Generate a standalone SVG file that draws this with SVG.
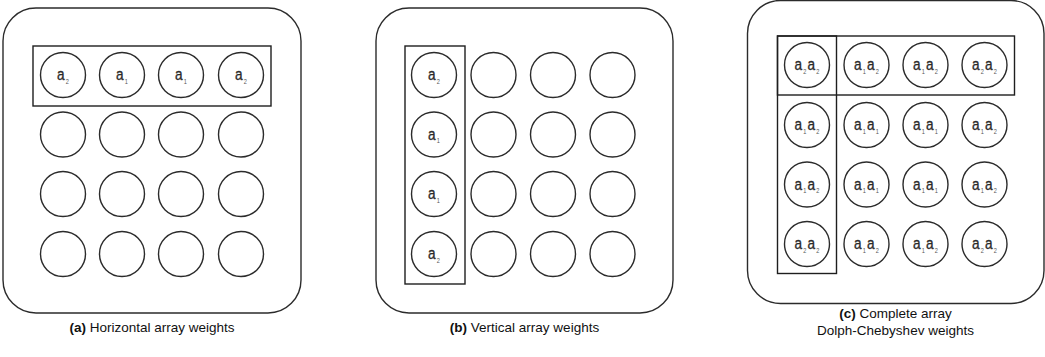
<svg xmlns="http://www.w3.org/2000/svg" width="1045" height="357" viewBox="0 0 1045 357">
  <style>
    .panel { fill: #ffffff; stroke: #2b2b2b; stroke-width: 1.4; }
    .box { fill: none; stroke: #1e1e1e; stroke-width: 1.4; }
    .el { fill: #ffffff; stroke: #2b2b2b; stroke-width: 1.4; }
    .w { font-family: "Liberation Sans", Arial, sans-serif; font-size: 17px; fill: #2a2a2a; stroke: #2a2a2a; stroke-width: 0.35; text-anchor: middle; }
    .w .s { font-size: 7px; fill: #555555; stroke: none; }
    .cap { font-family: "Liberation Sans", Arial, sans-serif; font-size: 13.5px; fill: #111111; text-anchor: middle; }
    .cap .b { font-weight: bold; }
  </style>
  <defs>
    <circle id="elem" r="22.5" class="el"/>
    <!-- weight labels, drawn in a narrow face around the origin -->
    <text id="w1" class="w" x="0" y="5" transform="scale(0.8,1)">a<tspan class="s" dx="1.5" dy="4">1</tspan></text>
    <text id="w2" class="w" x="0" y="5" transform="scale(0.8,1)">a<tspan class="s" dx="1.5" dy="4">2</tspan></text>
    <text id="w11" class="w" x="0" y="5" transform="scale(0.8,1)">a<tspan class="s" dx="1.5" dy="4">1</tspan><tspan dx="1.5" dy="-4">a</tspan><tspan class="s" dx="1.5" dy="4">1</tspan></text>
    <text id="w12" class="w" x="0" y="5" transform="scale(0.8,1)">a<tspan class="s" dx="1.5" dy="4">1</tspan><tspan dx="1.5" dy="-4">a</tspan><tspan class="s" dx="1.5" dy="4">2</tspan></text>
    <text id="w22" class="w" x="0" y="5" transform="scale(0.8,1)">a<tspan class="s" dx="1.5" dy="4">2</tspan><tspan dx="1.5" dy="-4">a</tspan><tspan class="s" dx="1.5" dy="4">2</tspan></text>
  </defs>

  <!-- (a) horizontal array weights -->
  <g id="panel-a">
    <rect class="panel" x="3" y="8" width="298" height="305" rx="33" ry="33"/>
    <rect class="box" x="33" y="46" width="238" height="60"/>
    <g id="grid-a">
      <use href="#elem" x="63" y="75"/><use href="#elem" x="122" y="75"/><use href="#elem" x="181" y="75"/><use href="#elem" x="241" y="75"/>
      <use href="#elem" x="63" y="134.5"/><use href="#elem" x="122" y="134.5"/><use href="#elem" x="181" y="134.5"/><use href="#elem" x="241" y="134.5"/>
      <use href="#elem" x="63" y="194"/><use href="#elem" x="122" y="194"/><use href="#elem" x="181" y="194"/><use href="#elem" x="241" y="194"/>
      <use href="#elem" x="63" y="254"/><use href="#elem" x="122" y="254"/><use href="#elem" x="181" y="254"/><use href="#elem" x="241" y="254"/>
    </g>
    <g id="weights-a">
      <use href="#w2" x="63" y="75"/>
      <use href="#w1" x="122" y="75"/>
      <use href="#w1" x="181" y="75"/>
      <use href="#w2" x="241" y="75"/>
    </g>
    <text class="cap" x="152" y="332"><tspan class="b">(a)</tspan> Horizontal array weights</text>
  </g>

  <!-- (b) vertical array weights -->
  <g id="panel-b">
    <rect class="panel" x="376" y="8" width="297" height="305" rx="33" ry="33"/>
    <rect class="box" x="405" y="46" width="60" height="238"/>
    <g id="grid-b">
      <use href="#elem" x="434" y="75"/><use href="#elem" x="493.5" y="75"/><use href="#elem" x="553" y="75"/><use href="#elem" x="612.5" y="75"/>
      <use href="#elem" x="434" y="134.5"/><use href="#elem" x="493.5" y="134.5"/><use href="#elem" x="553" y="134.5"/><use href="#elem" x="612.5" y="134.5"/>
      <use href="#elem" x="434" y="194"/><use href="#elem" x="493.5" y="194"/><use href="#elem" x="553" y="194"/><use href="#elem" x="612.5" y="194"/>
      <use href="#elem" x="434" y="254"/><use href="#elem" x="493.5" y="254"/><use href="#elem" x="553" y="254"/><use href="#elem" x="612.5" y="254"/>
    </g>
    <g id="weights-b">
      <use href="#w2" x="434" y="75"/>
      <use href="#w1" x="434" y="134.5"/>
      <use href="#w1" x="434" y="194"/>
      <use href="#w2" x="434" y="254"/>
    </g>
    <text class="cap" x="524.5" y="332"><tspan class="b">(b)</tspan> Vertical array weights</text>
  </g>

  <!-- (c) complete Dolph-Chebyshev weights -->
  <g id="panel-c">
    <rect class="panel" x="747.5" y="0.5" width="296.5" height="303" rx="33" ry="33"/>
    <rect class="box" x="777.5" y="36" width="237" height="59"/>
    <rect class="box" x="777.5" y="36" width="59" height="237.5"/>
    <g id="grid-c">
      <use href="#elem" x="807" y="65"/><use href="#elem" x="866.5" y="65"/><use href="#elem" x="925.5" y="65"/><use href="#elem" x="984.5" y="65"/>
      <use href="#elem" x="807" y="125"/><use href="#elem" x="866.5" y="125"/><use href="#elem" x="925.5" y="125"/><use href="#elem" x="984.5" y="125"/>
      <use href="#elem" x="807" y="184.5"/><use href="#elem" x="866.5" y="184.5"/><use href="#elem" x="925.5" y="184.5"/><use href="#elem" x="984.5" y="184.5"/>
      <use href="#elem" x="807" y="244"/><use href="#elem" x="866.5" y="244"/><use href="#elem" x="925.5" y="244"/><use href="#elem" x="984.5" y="244"/>
    </g>
    <g id="weights-c">
      <use href="#w22" x="807" y="65"/><use href="#w12" x="866.5" y="65"/><use href="#w12" x="925.5" y="65"/><use href="#w22" x="984.5" y="65"/>
      <use href="#w12" x="807" y="125"/><use href="#w11" x="866.5" y="125"/><use href="#w11" x="925.5" y="125"/><use href="#w12" x="984.5" y="125"/>
      <use href="#w12" x="807" y="184.5"/><use href="#w11" x="866.5" y="184.5"/><use href="#w11" x="925.5" y="184.5"/><use href="#w12" x="984.5" y="184.5"/>
      <use href="#w22" x="807" y="244"/><use href="#w12" x="866.5" y="244"/><use href="#w12" x="925.5" y="244"/><use href="#w22" x="984.5" y="244"/>
    </g>
    <text class="cap" x="895.5" y="318"><tspan class="b">(c)</tspan> Complete array</text>
    <text class="cap" x="895.5" y="335">Dolph-Chebyshev weights</text>
  </g>
</svg>
